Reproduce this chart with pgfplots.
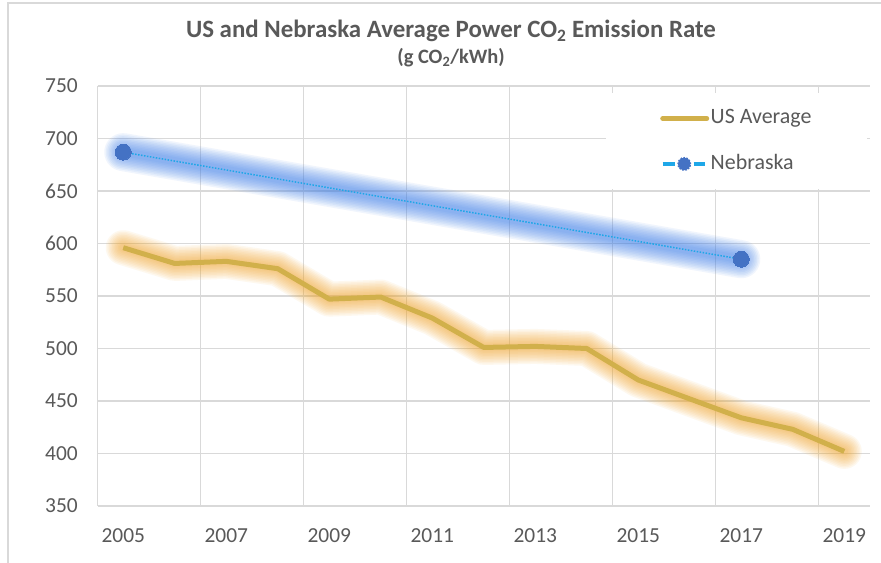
\documentclass[border=0pt]{standalone}
\usepackage{fontspec}
\setmainfont{Carlito}
\usepackage{pgfplots}
\usepackage{pgfplotstable}
\pgfplotsset{compat=1.18}
\definecolor{txt}{HTML}{595959}
\definecolor{gridc}{HTML}{D9D9D9}
\definecolor{usline}{HTML}{D1B04B}
\definecolor{usglow}{RGB}{245,165,40}
\definecolor{neglow}{RGB}{60,125,235}
\definecolor{nemark}{HTML}{4472C4}
\definecolor{nedot}{HTML}{1EA7E8}

\pgfplotstableread{
year val
2005 596
2006 581
2007 583
2008 576
2009 547
2010 549
2011 529
2012 501
2013 502
2014 500
2015 470
2016 452
2017 434
2018 423
2019 402
}\usdata

\pgfplotstableread{
year val
2005 687
2017 585
}\nedata

\pgfplotsset{
  neg/.style={forget plot, neglow, line width=#1, opacity=0.075, line cap=round},
  usg/.style={forget plot, usglow, line width=#1, opacity=0.075, line cap=round, line join=round},
}

\begin{document}
\begin{tikzpicture}[x=1bp,y=1bp]
\useasboundingbox (0,0) rectangle (881,563);
\fill[white] (0,0) rectangle (881,563);
\draw[gridc, line width=1.2bp] (8,0) -- (8,560) -- (881,560);
\node[anchor=base, text=txt, font=\fontsize{25}{30}\selectfont\bfseries] at (451,563-37.5) {US and Nebraska Average Power CO\textsubscript{2} Emission Rate};
\node[anchor=base, text=txt, font=\fontsize{20.5}{24}\selectfont\bfseries] at (451,563-63.5) {(g CO\textsubscript{2}/kWh)};
\begin{axis}[
  at={(97.5bp,57bp)}, anchor=south west,
  width=772.5bp, height=420bp, scale only axis,
  xmin=2004.5, xmax=2019.5, ymin=350, ymax=750,
  xtick={2005,2007,...,2019}, ytick={350,400,...,750},
  minor xtick={2006.5,2008.5,...,2018.5},
  xminorgrids, ymajorgrids,
  minor grid style={gridc, line width=1.1bp},
  major grid style={gridc, line width=1.1bp},
  axis x line*=bottom, axis y line*=left,
  axis line style={gridc, line width=1.1bp, -},
  major tick length=0pt, minor tick length=0pt,
  /pgf/number format/assume math mode=true,
  /pgf/number format/1000 sep={},
  ticklabel style={font=\fontsize{21.5}{26}\selectfont, text=txt},
  xticklabel style={anchor=base, inner sep=0pt, yshift=-36.5bp},
  yticklabel style={anchor=east, inner sep=0pt, xshift=-19.5bp},
  clip=false,
  legend style={at={(axis description cs:0.6583,0.9833)}, anchor=north west,
    fill=white, draw=none, inner xsep=54bp, inner ysep=14bp,
    row sep=23bp, font=\fontsize{22}{26}\selectfont, text=txt,
    nodes={inner sep=1.5bp, text height=15bp, text depth=4.5bp}},
  legend cell align=left,
]
% glows
\addplot[neg=38bp] table {\nedata};
\addplot[neg=35bp] table {\nedata};
\addplot[neg=32bp] table {\nedata};
\addplot[neg=29bp] table {\nedata};
\addplot[neg=26bp] table {\nedata};
\addplot[neg=23bp] table {\nedata};
\addplot[neg=20bp] table {\nedata};
\addplot[neg=17bp] table {\nedata};
\addplot[neg=14bp] table {\nedata};
\addplot[neg=11bp] table {\nedata};
\addplot[neg=8bp] table {\nedata};
\addplot[usg=35bp] table {\usdata};
\addplot[usg=32bp] table {\usdata};
\addplot[usg=29bp] table {\usdata};
\addplot[usg=26bp] table {\usdata};
\addplot[usg=23bp] table {\usdata};
\addplot[usg=20bp] table {\usdata};
\addplot[usg=17bp] table {\usdata};
\addplot[usg=14bp] table {\usdata};
\addplot[usg=11bp] table {\usdata};
\addplot[usg=8bp] table {\usdata};
% series
\addplot[usline, line width=5bp, line join=round, no markers,
  legend image code/.code={\draw[usline, solid, line width=5bp, line cap=round] (0bp,0bp) -- (44bp,0bp);}]
  table {\usdata};
\addlegendentry{US Average}
\addplot[nedot, line width=1.5bp, dash pattern=on 1.5bp off 1.5bp,
  mark=*, mark size=8bp, mark options={solid, fill=nemark, draw=nemark, line width=0pt},
  legend image code/.code={
    \draw[nedot, solid, line width=3.5bp] (0bp,0bp) -- (12bp,0bp);
    \draw[nedot, solid, line width=3.5bp] (31bp,0bp) -- (42bp,0bp);
    \fill[nemark] (21.5bp,0bp) circle (6.2bp);}]
  table {\nedata};
\addlegendentry{Nebraska}
\end{axis}
\end{tikzpicture}
\end{document}
